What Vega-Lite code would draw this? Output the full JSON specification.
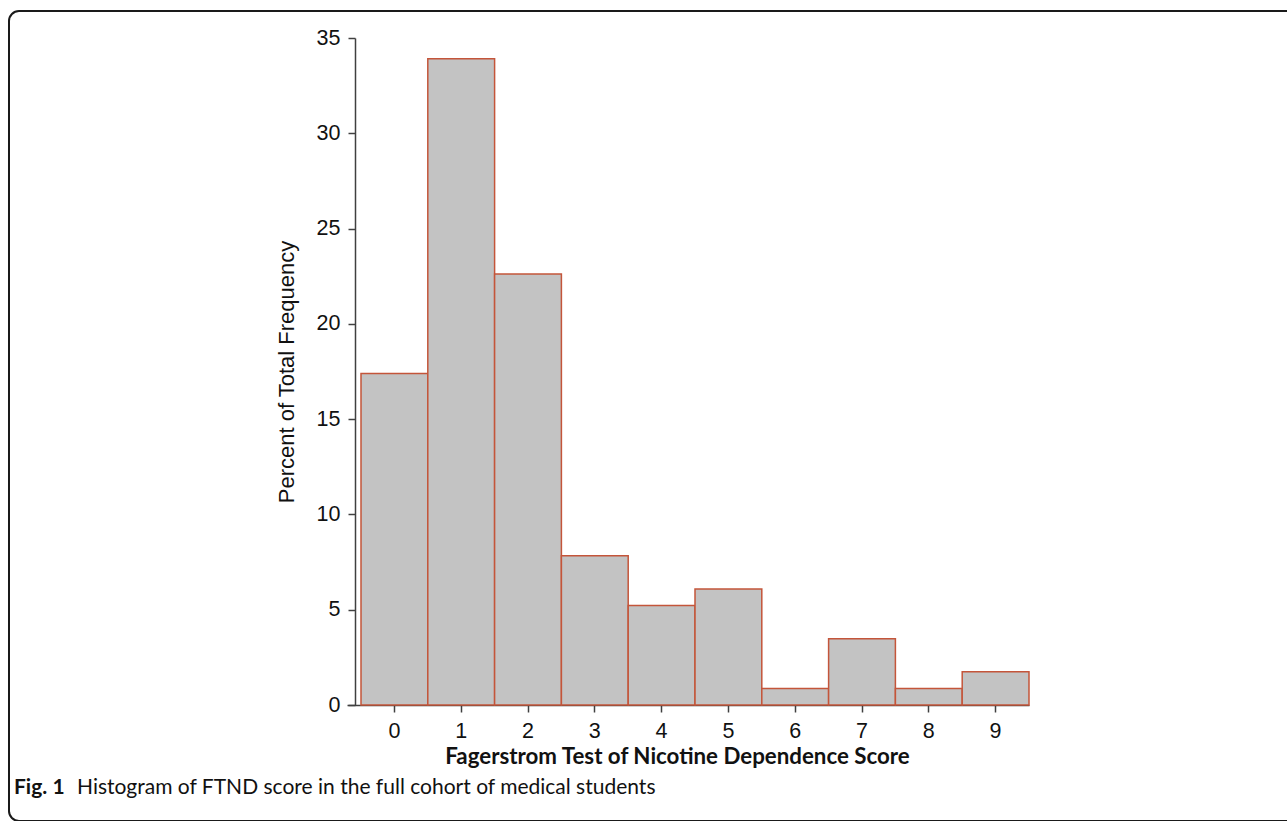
{
  "$schema": "https://vega.github.io/schema/vega-lite/v6.json",
  "width": 1290,
  "height": 810,
  "autosize": {"type": "none"},
  "padding": {"left": 9, "top": 11, "right": 0, "bottom": 0},
  "background": "white",
  "config": {"view": {"stroke": "#1a1a1a", "strokeWidth": 2, "cornerRadius": 10}},
  "title": {
    "text": "Fig. 1",
    "subtitle": "\u200b\u2003\u2003\u2003\u2003Histogram of FTND score in the full cohort of medical students",
    "orient": "bottom",
    "anchor": "start",
    "frame": "group",
    "offset": -44,
    "dx": 5,
    "font": "Lato",
    "fontSize": 21,
    "fontWeight": "bold",
    "color": "#111111",
    "subtitleFont": "Lato",
    "subtitleFontSize": 21,
    "subtitleFontWeight": "normal",
    "subtitleColor": "#111111",
    "subtitlePadding": -21
  },
  "data": {
    "values": [
      {"score": 0, "percent": 17.39},
      {"score": 1, "percent": 33.91},
      {"score": 2, "percent": 22.61},
      {"score": 3, "percent": 7.83},
      {"score": 4, "percent": 5.22},
      {"score": 5, "percent": 6.09},
      {"score": 6, "percent": 0.87},
      {"score": 7, "percent": 3.48},
      {"score": 8, "percent": 0.87},
      {"score": 9, "percent": 1.74}
    ]
  },
  "mark": {"type": "bar", "fill": "#c3c3c3", "stroke": "#c4553a", "strokeWidth": 1.5},
  "encoding": {
    "x": {
      "field": "score",
      "type": "ordinal",
      "scale": {"range": [338, 1020], "paddingInner": 0, "paddingOuter": 0.1048, "align": 1},
      "axis": {
        "offset": -116,
        "grid": false,
        "domainColor": "#404040",
        "domainWidth": 1.5,
        "tickColor": "#404040",
        "tickWidth": 1.5,
        "tickSize": 7,
        "labelFont": "Liberation Sans",
        "labelFontSize": 21.5,
        "labelColor": "#111111",
        "labelPadding": 8,
        "labelAngle": 0,
        "title": "Fagerstrom Test of Nicotine Dependence Score",
        "titleFont": "Lato",
        "titleFontWeight": "bold",
        "titleFontSize": 22.3,
        "titleColor": "#111111",
        "titleX": 668,
        "titleY": 58,
        "titleBaseline": "alphabetic"
      }
    },
    "y": {
      "field": "percent",
      "type": "quantitative",
      "scale": {"domain": [0, 35], "range": [694, 27], "nice": false, "zero": true},
      "axis": {
        "offset": -346,
        "grid": false,
        "values": [0, 5, 10, 15, 20, 25, 30, 35],
        "domainColor": "#404040",
        "domainWidth": 1.5,
        "tickColor": "#404040",
        "tickWidth": 1.5,
        "tickSize": 7,
        "labelFont": "Liberation Sans",
        "labelFontSize": 21.5,
        "labelColor": "#111111",
        "labelPadding": 8,
        "title": "Percent of Total Frequency",
        "titleFont": "Liberation Sans",
        "titleFontSize": 22,
        "titleFontWeight": "normal",
        "titleColor": "#111111",
        "titlePadding": 18
      }
    }
  }
}
